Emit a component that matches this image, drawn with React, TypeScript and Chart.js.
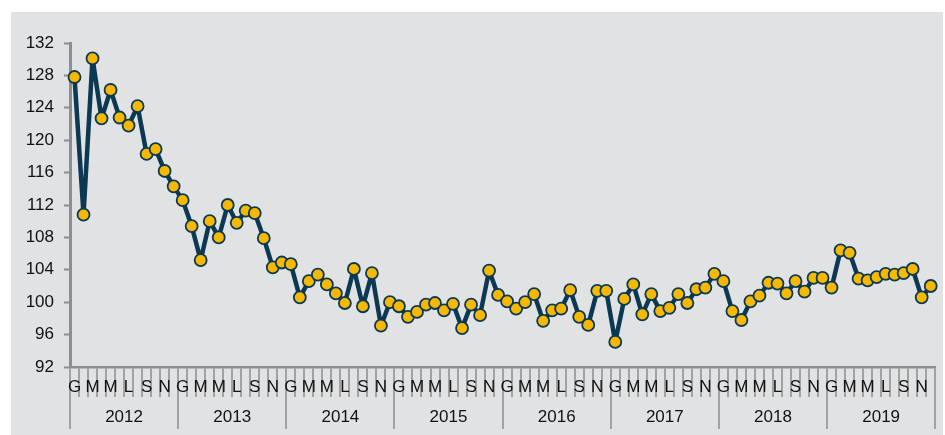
import React, { useEffect, useRef } from 'react';
import { Chart, registerables } from 'chart.js';

Chart.register(...registerables);

const years = ['2012', '2013', '2014', '2015', '2016', '2017', '2018', '2019'];
const monthLetters = ['G', '', 'M', '', 'M', '', 'L', '', 'S', '', 'N', ''];

const values2012 = [127.8, 110.8, 130.1, 122.7, 126.2, 122.8, 121.8, 124.2, 118.3, 118.9, 116.2, 114.3];
const values2013 = [112.6, 109.4, 105.2, 110.0, 108.0, 112.0, 109.8, 111.3, 111.0, 107.9, 104.3, 104.9];
const values2014 = [104.7, 100.6, 102.6, 103.4, 102.2, 101.1, 99.9, 104.1, 99.5, 103.6, 97.1, 100.0];
const values2015 = [99.5, 98.2, 98.8, 99.7, 99.9, 99.0, 99.8, 96.8, 99.7, 98.4, 103.9, 100.9];
const values2016 = [100.1, 99.2, 100.0, 101.0, 97.7, 99.0, 99.2, 101.5, 98.2, 97.2, 101.4, 101.4];
const values2017 = [95.1, 100.4, 102.2, 98.5, 101.0, 98.9, 99.3, 101.0, 99.9, 101.6, 101.8, 103.5];
const values2018 = [102.6, 98.9, 97.8, 100.1, 100.8, 102.4, 102.3, 101.1, 102.6, 101.3, 103.0, 103.0];
const values2019 = [101.8, 106.4, 106.1, 102.9, 102.7, 103.1, 103.5, 103.4, 103.6, 104.1, 100.6, 102.0];

const yMin = 92;
const yMax = 132;
const yStep = 4;

const allValues = [
  ...values2012, ...values2013, ...values2014, ...values2015,
  ...values2016, ...values2017, ...values2018, ...values2019,
];
const monthLabels = years.flatMap(() => monthLetters);

const FONT = "'Liberation Sans', Arial, sans-serif";
const AXIS_GRAY = '#8e8e8e';
const TICK_GRAY = '#a2a2a2';

export default function App() {
  const ref = useRef<HTMLCanvasElement | null>(null);

  useEffect(() => {
    if (!ref.current) return;
    const chart = new Chart(ref.current, {
      type: 'line',
      data: {
        labels: monthLabels,
        datasets: [
          {
            data: allValues,
            borderColor: '#0b3852',
            borderWidth: 4.5,
            borderJoinStyle: 'round',
            borderCapStyle: 'round',
            pointBackgroundColor: '#f6b800',
            pointBorderColor: '#0b3852',
            pointBorderWidth: 1.8,
            pointRadius: 6,
            tension: 0,
            clip: false as any,
          },
        ],
      },
      options: {
        animation: false,
        responsive: false,
        devicePixelRatio: 1,
        layout: { padding: { top: 31, right: 3, bottom: 6, left: 0 } },
        plugins: { legend: { display: false }, tooltip: { enabled: false } },
        scales: {
          y: {
            min: yMin,
            max: yMax,
            ticks: {
              stepSize: yStep,
              color: '#111',
              padding: 10,
              font: { family: FONT, size: 17 },
            },
            grid: {
              drawOnChartArea: false,
              drawTicks: true,
              tickLength: 6,
              tickColor: AXIS_GRAY,
              tickWidth: 2,
            },
            border: { display: true, color: AXIS_GRAY, width: 3 },
            afterFit: (s: any) => {
              s.width = 59;
            },
          },
          x: {
            type: 'category',
            offset: true,
            grid: {
              offset: true,
              drawOnChartArea: false,
              drawTicks: true,
              tickLength: 30,
              color: TICK_GRAY,
              lineWidth: 2,
            },
            border: { display: true, color: AXIS_GRAY, width: 2.5 },
            ticks: {
              autoSkip: false,
              maxRotation: 0,
              minRotation: 0,
              padding: -20,
              color: '#111',
              font: { family: FONT, size: 17 },
            },
            afterFit: (s: any) => {
              s.height = 30;
            },
          },
          x2: {
            type: 'category',
            position: 'bottom',
            labels: years,
            offset: true,
            grid: {
              offset: true,
              drawOnChartArea: false,
              drawTicks: true,
              tickLength: 32,
              color: TICK_GRAY,
              lineWidth: 2,
            },
            border: { display: false },
            ticks: {
              autoSkip: false,
              maxRotation: 0,
              minRotation: 0,
              padding: -22,
              color: '#111',
              font: { family: FONT, size: 17 },
            },
            afterFit: (s: any) => {
              s.height = 32;
            },
          },
        },
      } as any,
    });
    return () => chart.destroy();
  }, []);

  return (
    <div
      style={{
        position: 'absolute',
        left: 11,
        top: 12,
        width: 932,
        height: 423,
        background: '#e1e2e4',
      }}
    >
      <canvas ref={ref} width={932} height={423} style={{ display: 'block', width: 932, height: 423 }} />
    </div>
  );
}
